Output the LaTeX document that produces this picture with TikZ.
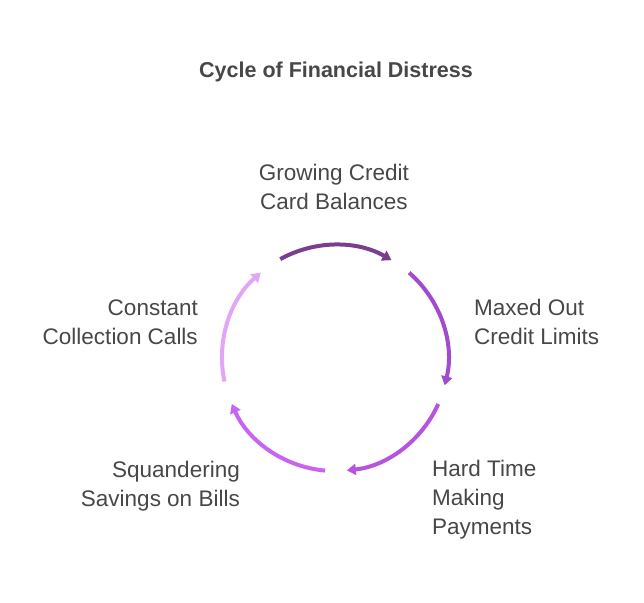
\documentclass[tikz,border=0pt]{standalone}
\usepackage{fontspec}
\setmainfont{Liberation Sans}
\usetikzlibrary{arrows.meta}
\begin{document}
\begin{tikzpicture}[x=1pt,y=1pt,
  lbl/.style={font=\fontsize{22.5}{29}\selectfont, text=black!72, align=left, inner sep=0pt},
  arcstyle/.style={line width=4pt, -{Triangle[length=9pt,width=11pt]}}]
\useasboundingbox (0,0) rectangle (644,602);
\coordinate (c) at (335,244);
\node[font=\bfseries\fontsize{21.5}{24}\selectfont, text=black!72] (title) at (336,530) {Cycle of Financial Distress};
\node[lbl, align=center] (n1) at (334,415) {Growing Credit\\Card Balances};
\node[lbl, anchor=west] (n2) at (474,280) {Maxed Out\\Credit Limits};
\node[lbl, anchor=west] (n3) at (432,102) {Hard Time\\Making\\Payments};
\node[lbl, align=right, anchor=east] (n4) at (240,116) {Squandering\\Savings on Bills};
\node[lbl, align=right, anchor=east] (n5) at (198,280) {Constant\\Collection Calls};
\definecolor{c1}{HTML}{7A3E8E}
\definecolor{c2}{HTML}{A24BCB}
\definecolor{c3}{HTML}{B653E0}
\definecolor{c4}{HTML}{C864F2}
\definecolor{c5}{HTML}{E2A6F7}
\draw[arcstyle, c1] ([shift={(119:113)}]c) arc[start angle=119, end angle=60, radius=113];
\draw[arcstyle, c2] ([shift={(49:113)}]c) arc[start angle=49, end angle=-14, radius=113];
\draw[arcstyle, c3] ([shift={(-24:113)}]c) arc[start angle=-24, end angle=-84, radius=113];
\draw[arcstyle, c4] ([shift={(-95:113)}]c) arc[start angle=-95, end angle=-156, radius=113];
\draw[arcstyle, c5] ([shift={(-168:113)}]c) arc[start angle=-168, end angle=-229, radius=113];
\end{tikzpicture}
\end{document}
